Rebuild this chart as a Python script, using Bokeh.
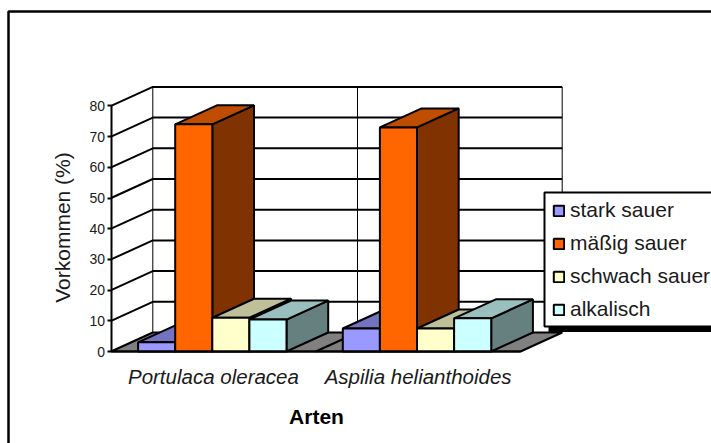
from bokeh.plotting import figure
from bokeh.embed import file_html
from bokeh.resources import INLINE
from bokeh.models import Range1d, LinearAxis, FixedTicker, Legend, LegendItem, Label

# ---- data ----
categories = ["Portulaca oleracea", "Aspilia helianthoides"]
series = ["stark sauer", "mäßig sauer", "schwach sauer", "alkalisch"]
stark_sauer = [3.0, 7.5]
maessig_sauer = [74.0, 73.0]
schwach_sauer = [11.0, 7.5]
alkalisch = [10.4, 10.8]
values = [stark_sauer, maessig_sauer, schwach_sauer, alkalisch]
y_ticks = [0, 10, 20, 30, 40, 50, 60, 70, 80]

front_colors = ["#9999FF", "#FF6600", "#FFFFCC", "#CCFFFF"]
top_colors = ["#7373BF", "#BF4D00", "#BFBF99", "#99BFBF"]
side_colors = ["#4D4D80", "#803300", "#808066", "#668080"]

# ---- layout (pixels of the canvas, origin top left) ----
W, H = 711, 443
X0, Y0 = 110.6, 351.0      # front-left corner of the floor
PX_CAT, PX_VAL = 204.7, 3.07
DEPTH_X, DEPTH_Y = 41.7 / PX_CAT, 19.0 / PX_VAL
BAR_W, BAR_GAP = 37.1 / PX_CAT, 27.0 / PX_CAT
YMAX = 80
FONT = "Liberation Sans"
BLACK = "#000000"
TEXT = "#1a1a1a"


def px_x(px):
    return (px - X0) / PX_CAT


def px_y(py):
    return (Y0 - py) / PX_VAL


p = figure(width=W, height=H, output_backend="svg", toolbar_location=None,
           x_range=Range1d(px_x(0), px_x(W)), y_range=Range1d(px_y(H), px_y(0)),
           x_axis_type=None, y_axis_type=None, min_border=0)
p.outline_line_color = None
p.grid.visible = False
p.background_fill_color = "white"
p.border_fill_color = "white"

ncat = len(categories)

# chart frame (open at the right and bottom, it runs off the picture)
p.line([px_x(8), px_x(8), px_x(W + 20)], [px_y(H + 20), px_y(11), px_y(11)],
       line_color=BLACK, line_width=2.5)

# floor
p.patch([0, ncat, ncat + DEPTH_X, DEPTH_X], [0, 0, DEPTH_Y, DEPTH_Y],
        fill_color="#808080", line_color=BLACK, line_width=2)
p.line([1, 1 + DEPTH_X], [0, DEPTH_Y], line_color=BLACK, line_width=2)

# walls' grid lines
p.multi_line([[0, DEPTH_X, ncat + DEPTH_X] for t in y_ticks if t > 0],
             [[t, t + DEPTH_Y, t + DEPTH_Y] for t in y_ticks if t > 0],
             line_color=BLACK, line_width=2)
p.multi_line([[c + DEPTH_X, c + DEPTH_X] for c in range(ncat + 1)],
             [[DEPTH_Y, YMAX + DEPTH_Y] for c in range(ncat + 1)],
             line_color=BLACK, line_width=1)

# bars
legend_items = []
for c in range(ncat):
    for s, name in enumerate(series):
        v = values[s][c]
        l = c + BAR_GAP + s * BAR_W
        r = l + BAR_W
        p.patch([r, r + DEPTH_X, r + DEPTH_X, r], [0, DEPTH_Y, v + DEPTH_Y, v],
                fill_color=side_colors[s], line_color=BLACK, line_width=2)
        p.patch([l, r, r + DEPTH_X, l + DEPTH_X], [v, v, v + DEPTH_Y, v + DEPTH_Y],
                fill_color=top_colors[s], line_color=BLACK, line_width=2)
        g = p.quad(left=l, right=r, bottom=0, top=v,
                   fill_color=front_colors[s], line_color=BLACK, line_width=2)
        if c == 0:
            legend_items.append(LegendItem(label=name, renderers=[g]))

# axes
yax = LinearAxis(ticker=FixedTicker(ticks=y_ticks), fixed_location=0,
                 axis_line_color=BLACK, axis_line_width=2,
                 major_tick_line_color=BLACK, major_tick_line_width=2,
                 major_tick_in=0, major_tick_out=4, minor_tick_line_color=None,
                 major_label_text_font=FONT, major_label_text_font_size="14px",
                 major_label_text_color=TEXT, major_label_standoff=2)
yax.bounds = (0, YMAX)
p.add_layout(yax, "left")

xax = LinearAxis(ticker=FixedTicker(ticks=[c + 0.5 for c in range(ncat)]),
                 fixed_location=0,
                 major_label_overrides={c + 0.5: categories[c] for c in range(ncat)},
                 axis_line_color=BLACK, axis_line_width=2,
                 major_tick_line_color=None, minor_tick_line_color=None,
                 major_label_text_font=FONT, major_label_text_font_style="italic",
                 major_label_text_font_size="20.5px",
                 major_label_text_color=TEXT, major_label_standoff=7)
xax.bounds = (0, ncat)
p.add_layout(xax, "below")

# axis titles
p.add_layout(Label(x=px_x(316), y=px_y(416), text="Arten", text_align="center",
                   text_baseline="middle", text_font=FONT, text_font_style="bold",
                   text_font_size="21px", text_color=BLACK))
p.add_layout(Label(x=px_x(62), y=px_y(227), text="Vorkommen (%)", angle=1.5708,
                   text_align="center", text_baseline="middle", text_font=FONT,
                   text_font_size="21px", text_color=TEXT))

# legend shadow, box and legend
p.quad(left=px_x(548), right=px_x(W + 20), top=px_y(200), bottom=px_y(331.5),
       fill_color=BLACK, line_color=None)
p.quad(left=px_x(544), right=px_x(W + 20), top=px_y(192), bottom=px_y(326),
       fill_color="white", line_color=BLACK, line_width=2)
legend = Legend(items=legend_items, location=(552, 122), orientation="vertical",
                border_line_color=None, background_fill_alpha=0,
                glyph_width=13, glyph_height=13, label_height=22,
                label_standoff=5, spacing=9, padding=0, margin=0,
                label_text_font=FONT, label_text_font_size="21px",
                label_text_color=TEXT)
p.add_layout(legend, "center")

open("out.html", "w").write(file_html(p, INLINE))
